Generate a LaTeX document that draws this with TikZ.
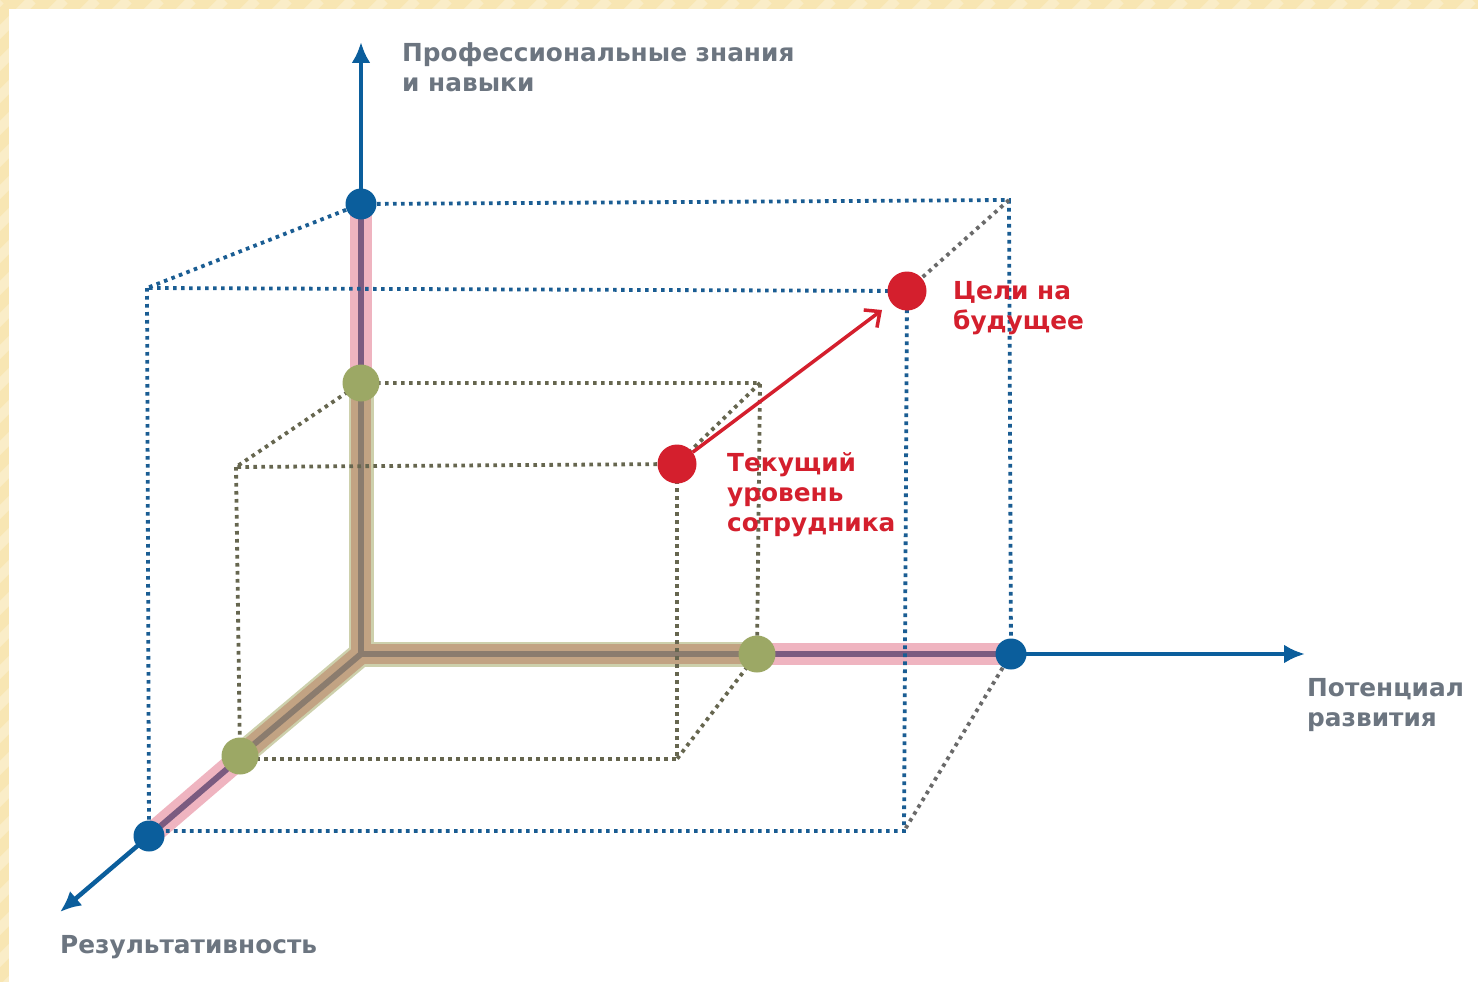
\documentclass[tikz,border=0pt]{standalone}
\usepackage{fontspec}
\setmainfont{DejaVu Sans}
\usetikzlibrary{arrows.meta}

\definecolor{framebeige}{HTML}{F8E6B3}
\definecolor{framestripe}{HTML}{FAEDC8}
\definecolor{axisblue}{HTML}{0B5E9C}
\definecolor{dotblue}{HTML}{1A5D93}
\definecolor{dotgray}{HTML}{6A6A6A}
\definecolor{dotolive}{HTML}{66664F}
\definecolor{olivedot}{HTML}{9CA865}
\definecolor{goalred}{HTML}{D41F2D}
\definecolor{labelgray}{HTML}{6C7580}
\definecolor{pinkband}{HTML}{EFB4C0}
\definecolor{pinkcore}{HTML}{7B5B80}
\definecolor{greenedge}{HTML}{CDD0AC}
\definecolor{tanband}{HTML}{C2A383}
\definecolor{tancore}{HTML}{8B7C6E}

\tikzset{
  bandpink/.style={draw=pinkband, line width=22pt, line join=round},
  corepink/.style={draw=pinkcore, line width=6pt, line join=round},
  bandedge/.style={draw=greenedge, line width=25pt, line join=round},
  bandtan/.style={draw=tanband, line width=20pt, line join=round},
  coretan/.style={draw=tancore, line width=6pt, line join=round},
  dotline/.style={line width=3.8pt, dash pattern=on 3.6pt off 4.4pt},
  bluedots/.style={dotline, draw=dotblue},
  graydots/.style={dotline, draw=dotgray},
  olivedots/.style={dotline, draw=dotolive},
  axisline/.style={draw=axisblue, line width=4.5pt, -{Latex[length=21pt,width=19pt]}},
  growth/.style={draw=goalred, line width=3.5pt, -{Straight Barb[length=12pt,width=22pt,line width=3.5pt]}},
  bluept/.style={circle, fill=axisblue, inner sep=0pt, minimum size=31pt},
  olivept/.style={circle, fill=olivedot, inner sep=0pt, minimum size=37pt},
  redpt/.style={circle, fill=goalred, inner sep=0pt, minimum size=39pt},
  axislabel/.style={text=labelgray, anchor=north west, align=left, inner sep=0pt,
    font=\fontsize{24.8}{30}\selectfont\bfseries},
  pointlabel/.style={axislabel, text=goalred}
}

\begin{document}
\begin{tikzpicture}[x=1pt,y=-1pt]
\useasboundingbox (0,0) rectangle (1478,982);

% slide frame with faint diagonal stripes
\fill[framebeige] (0,0) rectangle (1478,982);
\begin{scope}
  \clip (0,0) rectangle (1478,9) (0,0) rectangle (9,982);
  \foreach \i in {-1000,-968,...,1500}
    \draw[framestripe, line width=10pt] (\i,1000) -- (\i+1000,0);
\end{scope}
\fill[white] (9,9) rectangle (1478,982);

% key points
\coordinate (O)  at (361,654);
\coordinate (zt) at (361,42);
\coordinate (xt) at (1305,654);
\coordinate (yt) at (60,912);

% outer box corners
\coordinate (bTL) at (147,288);
\coordinate (bTR) at (1009,200);
\coordinate (bBR) at (904,831);
\coordinate (bBL) at (149,831);
% inner box corners
\coordinate (gTL) at (236,467);
\coordinate (gTR) at (760,383);
\coordinate (gBR) at (677,759);
\coordinate (gBL) at (240,759);

% point positions
\path (361,204) coordinate (zbp) (361,383) coordinate (zgp)
      (757,654) coordinate (xgp) (1011,654) coordinate (xbp)
      (240,756) coordinate (ygp) (149,836) coordinate (ybp)
      (677,464) coordinate (curp) (907,291) coordinate (goalp);

% axis bands
\draw[bandpink] (zbp) -- (O) -- (xbp);
\draw[bandpink] (O) -- (ybp);
\draw[corepink] (zbp) -- (O) -- (xbp);
\draw[corepink] (O) -- (ybp);
\draw[bandedge] (zgp) -- (O) -- (xgp);
\draw[bandedge] (O) -- (ygp);
\draw[bandtan] (zgp) -- (O) -- (xgp);
\draw[bandtan] (O) -- (ygp);
\draw[coretan] (zgp) -- (O) -- (xgp);
\draw[coretan] (O) -- (ygp);

% inner (current level) box
\draw[olivedots] (zgp) -- (gTR) -- (xgp);
\draw[olivedots] (zgp) -- (gTL) -- (curp);
\draw[olivedots] (gTL) -- (ygp);
\draw[olivedots] (gBL) -- (gBR) -- (curp);
\draw[olivedots] (gTR) -- (curp);
\draw[olivedots] (xgp) -- (gBR);

% outer (goal) box
\draw[bluedots] (zbp) -- (bTR) -- (xbp);
\draw[bluedots] (zbp) -- (bTL) -- (goalp);
\draw[bluedots] (bTL) -- (bBL) -- (bBR) -- (goalp);
\draw[graydots] (bTR) -- (goalp);
\draw[graydots] (xbp) -- (bBR);

% axes
\draw[axisline] (zbp) -- (zt);
\draw[axisline] (xbp) -- (xt);
\draw[axisline] (ybp) -- (yt);

% points
\node[olivept] (zg) at (zgp) {};
\node[olivept] (xg) at (xgp) {};
\node[olivept] (yg) at (ygp) {};
\node[bluept] (zb) at (zbp) {};
\node[bluept] (xb) at (xbp) {};
\node[bluept] (yb) at (ybp) {};
\node[redpt] (cur) at (curp) {};
\node[redpt] (goal) at (goalp) {};

% growth arrow
\draw[growth] (cur) -- ([shift={(-25,19)}]goal.center);

% labels
\node[axislabel] (lz) at (402,42) {Профессиональные знания\\и навыки};
\node[axislabel] (lx) at (1307,678) {Потенциал\\развития};
\node[axislabel] (ly) at (60,935) {Результативность};
\node[pointlabel] (lgoal) at (953,281) {Цели на\\будущее};
\node[pointlabel] (lcur) at (727,452) {Текущий\\уровень\\сотрудника};
\end{tikzpicture}
\end{document}
